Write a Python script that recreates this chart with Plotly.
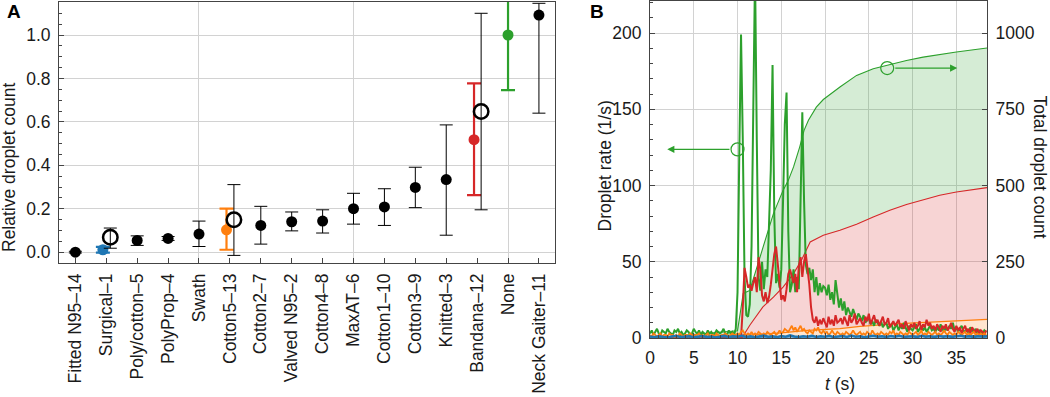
import numpy as np
import plotly.graph_objects as go

# ---------------- Panel A data ----------------
categories = ["Fitted N95–14", "Surgical–1", "Poly/cotton–5", "PolyProp–4", "Swath",
              "Cotton5–13", "Cotton2–7", "Valved N95–2", "Cotton4–8", "MaxAT–6",
              "Cotton1–10", "Cotton3–9", "Knitted–3", "Bandana–12", "None", "Neck Gaiter–11"]
rel_count = [0.0, 0.011, 0.054, 0.063, 0.083, 0.103, 0.123, 0.140, 0.143, 0.200,
             0.208, 0.298, 0.334, 0.518, 1.000, 1.092]
rel_upper = [0.004, 0.024, 0.075, 0.072, 0.143, 0.200, 0.211, 0.185, 0.195, 0.271,
             0.292, 0.391, 0.586, 0.777, 1.260, 1.146]
rel_lower = [-0.004, -0.002, 0.031, 0.054, 0.026, 0.011, 0.037, 0.098, 0.088, 0.129,
             0.123, 0.205, 0.078, 0.263, 0.746, 0.640]
repeat_categories = ["Surgical–1", "Cotton5–13", "Bandana–12"]
repeat_count = [0.069, 0.149, 0.648]
repeat_upper = [0.111, 0.311, 1.100]
repeat_lower = [0.018, -0.015, 0.195]

# ---------------- Panel B data ----------------
rate_t = np.round(np.arange(193) * 0.2, 1)          # 0 .. 38.4 s
green_rate = [
    3, 5, 2, 4, 6, 3, 2, 5, 4, 3,
    6, 4, 3, 2, 5, 4, 6, 3, 4, 2,
    3, 5, 4, 2, 3, 6, 4, 3, 5, 2,
    4, 3, 2, 5, 3, 4, 2, 3, 5, 4,
    3, 4, 6, 3, 2, 5, 3, 4, 2, 6,
    30, 120, 199, 130, 40, 15, 14, 22, 60, 150,
    240, 130, 40, 31, 50, 32, 45, 40, 70, 110,
    179, 80, 36, 42, 33, 45, 90, 140, 161, 70,
    30, 35, 45, 30, 40, 32, 90, 148, 90, 48,
    42, 46, 38, 45, 30, 40, 28, 36, 30, 34,
    33, 28, 35, 25, 30, 22, 38, 30, 20, 26,
    18, 24, 15, 20, 17, 14, 19, 15, 12, 16,
    14, 11, 15, 10, 12, 13, 9, 11, 8, 12,
    10, 8, 11, 7, 9, 10, 6, 8, 9, 5,
    7, 9, 5, 8, 6, 10, 7, 4, 8, 6,
    5, 7, 9, 4, 6, 8, 5, 7, 4, 6,
    8, 5, 6, 4, 7, 5, 9, 6, 4, 7,
    5, 8, 6, 10, 5, 7, 4, 6, 8, 5,
    4, 6, 3, 7, 5, 4, 6, 3, 5, 4,
    3, 5, 4]
red_rate = [   # from t = 10.0 s
    0, 0, 0, 20, 46, 40, 33, 35, 31, 36,
    40, 30, 53, 45, 28, 24, 30, 23, 27, 35,
    45, 55, 60, 49, 40, 25, 28, 24, 32, 42,
    45, 40, 36, 42, 30, 47, 53, 40, 50, 55,
    46, 35, 20, 12, 10, 14, 8, 12, 9, 13,
    10, 7, 14, 9, 12, 8, 15, 10, 11, 13,
    9, 14, 11, 8, 15, 10, 12, 16, 9, 11,
    13, 10, 8, 14, 11, 16, 9, 12, 15, 10,
    12, 8, 11, 14, 9, 10, 13, 7, 9, 11,
    8, 10, 12, 7, 9, 6, 11, 8, 5, 9,
    7, 10, 6, 8, 11, 5, 9, 7, 12, 8,
    10, 6, 8, 5, 9, 7, 4, 8, 6, 9,
    5, 7, 10, 6, 4, 8, 5, 7, 3, 6,
    8, 4, 6, 3, 7, 5, 4, 6, 3, 5,
    4, 2, 5]
orange_rate = [
    2, 1, 3, 2, 1, 2, 3, 1, 2, 2,
    1, 3, 2, 2, 1, 2, 1, 3, 2, 1,
    2, 2, 1, 3, 2, 1, 2, 2, 3, 1,
    2, 1, 2, 3, 1, 2, 2, 1, 3, 2,
    1, 2, 2, 3, 2, 1, 2, 3, 2, 2,
    3, 2, 4, 5, 3, 2, 3, 2, 4, 2,
    3, 2, 4, 3, 2, 3, 2, 4, 3, 2,
    3, 4, 2, 3, 5, 3, 4, 6, 5, 4,
    6, 8, 5, 7, 4, 6, 8, 5, 6, 4,
    3, 5, 4, 3, 6, 5, 7, 4, 3, 5,
    3, 4, 2, 3, 5, 3, 2, 4, 3, 2,
    3, 2, 4, 3, 2, 3, 5, 3, 2, 3,
    4, 2, 3, 2, 4, 3, 2, 5, 3, 2,
    3, 2, 4, 3, 2, 3, 2, 4, 3, 5,
    2, 3, 2, 4, 3, 2, 3, 2, 4, 3,
    2, 3, 4, 2, 3, 5, 2, 3, 2, 4,
    3, 2, 3, 4, 2, 3, 2, 3, 5, 3,
    2, 4, 3, 2, 3, 2, 4, 3, 2, 3,
    4, 2, 3, 2, 3, 4, 2, 3, 2, 3,
    2, 3, 2]
blue_t = np.arange(78) * 0.5
blue_rate = [
    1, 0.5, 1.2, 0.8, 0.4, 1, 1.5, 0.6, 0.9, 1.2,
    0.5, 0.8, 1.3, 0.7, 1, 0.4, 0.9, 1.4, 0.6, 1.1,
    0.8, 1.5, 0.7, 1.2, 0.5, 1, 1.6, 0.8, 1.1, 0.6,
    1.3, 0.9, 1.7, 1, 0.6, 1.2, 0.8, 1.5, 0.7, 1.1,
    0.9, 1.4, 0.6, 1, 1.3, 0.7, 1.6, 0.9, 1.2, 0.5,
    1, 1.4, 0.8, 1.1, 0.6, 1.3, 0.9, 1.5, 0.7, 1,
    1.2, 0.6, 1.4, 0.8, 1.1, 0.5, 1.3, 0.9, 1.2, 0.7,
    1, 1.4, 0.8, 1.1, 0.6, 1.2, 0.9, 1.0]

green_cum_t = [0, 2.5, 5, 7.5, 10, 10.3, 10.65, 11.4, 12.2, 12.9, 14.1, 15.2, 15.8, 16.4,
               17.1, 17.6, 18.1, 19.0, 19.8, 21.7, 23.6, 25.5, 27.4, 29.3, 31.2, 33.1, 35, 38.5]
green_cum = [0, 6, 12, 18, 24, 80, 146, 156, 233, 298, 408, 484, 517, 561,
             626, 681, 714, 757, 782, 823, 861, 883, 897, 910, 921, 930, 938, 951]
red_cum_t = [0, 10.5, 11.4, 12.2, 12.9, 14.1, 15.2, 16.4, 17.3, 18.3, 19.8, 21.7,
             23.6, 25.5, 27.4, 29.3, 31.2, 33.1, 35, 38.5]
red_cum = [0, 0, 42, 74, 102, 134, 167, 211, 255, 315, 337, 353,
           373, 397, 419, 438, 454, 468, 479, 493]
orange_cum_t = [0, 5, 10, 12, 15, 18, 21.7, 24, 28, 32, 35, 38.5]
orange_cum = [0, 4, 8, 11, 17, 25, 31, 38, 46, 52, 57, 61]
blue_cum_t = [0, 10, 20, 30, 38.5]
blue_cum = [0, 2, 4, 6, 8]

# ---------------- styling ----------------
FONT = "Liberation Sans, Arial, sans-serif"
FS = 17.5
TXT = "#1a1a1a"
GRID = "#d2d2d2"
FRAME = "#444444"
C_BLUE, C_ORANGE, C_GREEN, C_RED = "#1f77b4", "#ff7f0e", "#2ca02c", "#d62728"
highlight = {"Surgical–1": C_BLUE, "Cotton5–13": C_ORANGE, "Bandana–12": C_RED, "None": C_GREEN}
shift_filled = {"Surgical–1": -0.11, "Cotton5–13": -0.11, "Bandana–12": -0.10, "None": 0.0}
shift_open = 0.13

fig = go.Figure()

# Panel A: black filled points
idx = {c: i for i, c in enumerate(categories)}
plain = [c for c in categories if c not in highlight]
fig.add_trace(go.Scatter(
    x=[idx[c] for c in plain], y=[rel_count[idx[c]] for c in plain],
    mode="markers", marker=dict(color="black", size=11),
    error_y=dict(type="data", symmetric=False,
                 array=[rel_upper[idx[c]] - rel_count[idx[c]] for c in plain],
                 arrayminus=[rel_count[idx[c]] - rel_lower[idx[c]] for c in plain],
                 color="black", thickness=1, width=6.5),
    xaxis="x", yaxis="y", showlegend=False, hoverinfo="skip"))

for c, col in highlight.items():
    i = idx[c]
    fig.add_trace(go.Scatter(
        x=[i + shift_filled[c]], y=[rel_count[i]], mode="markers",
        marker=dict(color=col, size=11),
        error_y=dict(type="data", symmetric=False,
                     array=[rel_upper[i] - rel_count[i]],
                     arrayminus=[rel_count[i] - rel_lower[i]],
                     color=col, thickness=2.2, width=7),
        xaxis="x", yaxis="y", showlegend=False, hoverinfo="skip"))

# Panel A: open circles (on overlay axis carrying the category labels)
fig.add_trace(go.Scatter(
    x=[idx[c] + shift_open for c in repeat_categories], y=repeat_count, mode="markers",
    marker=dict(symbol="circle-open", color="black", size=14.5, line=dict(width=2.5, color="black")),
    error_y=dict(type="data", symmetric=False,
                 array=[u - v for u, v in zip(repeat_upper, repeat_count)],
                 arrayminus=[v - l for v, l in zip(repeat_count, repeat_lower)],
                 color="black", thickness=1, width=6.5),
    xaxis="x3", yaxis="y", showlegend=False, hoverinfo="skip"))

# Panel B: cumulative (main axis y2, right side)
fig.add_trace(go.Scatter(x=blue_cum_t, y=blue_cum, mode="lines", line=dict(color=C_BLUE, width=1),
                         fill="tozeroy", fillcolor="rgba(31,119,180,0.2)",
                         xaxis="x2", yaxis="y2", showlegend=False, hoverinfo="skip"))
fig.add_trace(go.Scatter(x=orange_cum_t, y=orange_cum, mode="lines", line=dict(color=C_ORANGE, width=1.2),
                         fill="tonexty", fillcolor="rgba(255,127,14,0.2)",
                         xaxis="x2", yaxis="y2", showlegend=False, hoverinfo="skip"))
fig.add_trace(go.Scatter(x=red_cum_t, y=red_cum, mode="lines", line=dict(color=C_RED, width=1.1),
                         fill="tonexty", fillcolor="rgba(214,39,40,0.2)",
                         xaxis="x2", yaxis="y2", showlegend=False, hoverinfo="skip"))
fig.add_trace(go.Scatter(x=green_cum_t, y=green_cum, mode="lines", line=dict(color=C_GREEN, width=1.1),
                         fill="tonexty", fillcolor="rgba(44,160,44,0.2)",
                         xaxis="x2", yaxis="y2", showlegend=False, hoverinfo="skip"))

# Panel B: rates (overlay axis y3, left side)
fig.add_trace(go.Scatter(x=rate_t, y=green_rate, mode="lines", line=dict(color=C_GREEN, width=2),
                         xaxis="x2", yaxis="y3", showlegend=False, hoverinfo="skip"))
fig.add_trace(go.Scatter(x=rate_t[50:], y=red_rate, mode="lines", line=dict(color=C_RED, width=2),
                         xaxis="x2", yaxis="y3", showlegend=False, hoverinfo="skip"))
fig.add_trace(go.Scatter(x=rate_t, y=orange_rate, mode="lines", line=dict(color=C_ORANGE, width=1.8),
                         xaxis="x2", yaxis="y3", showlegend=False, hoverinfo="skip"))
fig.add_trace(go.Scatter(x=blue_t, y=blue_rate, mode="lines", line=dict(color=C_BLUE, width=2.5),
                         xaxis="x2", yaxis="y3", showlegend=False, hoverinfo="skip"))

# axis-pointer circles + arrows
mark_rate = (10.0, 123.7)
mark_count = (27.1, 885)
fig.add_trace(go.Scatter(x=[mark_rate[0]], y=[mark_rate[1]], mode="markers",
                         marker=dict(symbol="circle-open", size=13, color=C_GREEN, line=dict(width=1.2)),
                         xaxis="x2", yaxis="y3", showlegend=False, hoverinfo="skip"))
fig.add_trace(go.Scatter(x=[mark_count[0]], y=[mark_count[1]], mode="markers",
                         marker=dict(symbol="circle-open", size=13, color=C_GREEN, line=dict(width=1.2)),
                         xaxis="x2", yaxis="y2", showlegend=False, hoverinfo="skip"))

annotations = [
    dict(x=1.97, y=mark_rate[1], ax=mark_rate[0] - 0.75, ay=mark_rate[1], xref="x2", yref="y3",
         axref="x2", ayref="y3", text="", showarrow=True, arrowhead=2, arrowsize=1.3,
         arrowwidth=1.1, arrowcolor=C_GREEN),
    dict(x=35.1, y=mark_count[1], ax=mark_count[0] + 0.75, ay=mark_count[1], xref="x2", yref="y2",
         axref="x2", ayref="y2", text="", showarrow=True, arrowhead=2, arrowsize=1.3,
         arrowwidth=1.1, arrowcolor=C_GREEN),
]

# titles / panel letters
W, L, R, T, B = 1050, 59, 63, 1, 59
PW, PH = W - L - R, 397 - T - B
def px(x):
    return (x - L) / PW
def py(y):
    return (397 - B - y) / PH

annotations += [
    dict(text="Relative droplet count", x=px(9), y=py(168), textangle=-90),
    dict(text="Droplet rate (1/s)", x=px(604.5), y=py(166), textangle=-90),
    dict(text="Total droplet count", x=px(1039.5), y=py(167), textangle=90),
    dict(text="<i>t</i> (s)", x=px(840), y=py(384), textangle=0),
    dict(text="<b>A</b>", x=px(14), y=py(11), textangle=0, font=dict(size=19, family=FONT, color="black")),
    dict(text="<b>B</b>", x=px(597), y=py(11), textangle=0, font=dict(size=19, family=FONT, color="black")),
]
for a in annotations[2:]:
    a.update(xref="paper", yref="paper", showarrow=False, xanchor="center", yanchor="middle")
    a.setdefault("font", dict(size=FS, family=FONT, color=TXT))

axis_common = dict(showline=True, linecolor=FRAME, linewidth=1, zeroline=False,
                   automargin=False, tickcolor=FRAME, ticks="inside",
                   tickfont=dict(size=FS, family=FONT, color=TXT))

a_dom_x = [0, px(555)]
a_dom_y = [py(263), py(2)]
b_dom_x = [px(650), 1]
x_range_a = [-0.53, 15.52]

fig.update_layout(
    width=W, height=397, margin=dict(l=L, r=R, t=T, b=B),
    paper_bgcolor="white", plot_bgcolor="white",
    font=dict(family=FONT, size=FS, color=TXT),
    annotations=annotations,
    xaxis=dict(domain=a_dom_x, range=x_range_a, anchor="y", tickmode="array", tickvals=[4, 9, 14],
               showticklabels=False, ticks="", showgrid=True, gridcolor=GRID, gridwidth=1,
               showline=True, mirror=True, linecolor=FRAME, zeroline=False, automargin=False),
    xaxis3=dict(domain=a_dom_x, range=x_range_a, anchor="y", overlaying="x", tickmode="array",
                tickvals=list(range(len(categories))), ticktext=categories, tickangle=-90,
                ticks="inside", ticklen=5, tickcolor=FRAME, showgrid=False, showline=False,
                zeroline=False, automargin=False, ticklabelstandoff=6,
                tickfont=dict(size=FS, family=FONT, color=TXT)),
    yaxis=dict(domain=a_dom_y, range=[-0.05, 1.152], anchor="x", tickmode="array",
               tickvals=[0, 0.2, 0.4, 0.6, 0.8, 1.0], ticktext=["0.0", "0.2", "0.4", "0.6", "0.8", "1.0"],
               ticklen=5, showgrid=True, gridcolor=GRID, gridwidth=1, mirror=True,
               minor=dict(dtick=0.05, ticks="inside", ticklen=3, tickcolor=FRAME, showgrid=False),
               ticklabelstandoff=4, **axis_common),
    xaxis2=dict(domain=b_dom_x, range=[0, 38.5], anchor="y2", tickmode="array",
                tickvals=[0, 5, 10, 15, 20, 25, 30, 35], ticklen=5, showgrid=True, gridcolor=GRID,
                gridwidth=1, mirror=True,
                minor=dict(dtick=1, ticks="inside", ticklen=3, tickcolor=FRAME, showgrid=False),
                ticklabelstandoff=4, **axis_common),
    yaxis2=dict(domain=[0, 1], range=[0, 1105], anchor="x2", side="right", tickmode="array",
                tickvals=[0, 250, 500, 750, 1000], ticklen=5, showgrid=True, gridcolor=GRID,
                gridwidth=1, ticklabelstandoff=4, **axis_common),
    yaxis3=dict(domain=[0, 1], range=[0, 221], anchor="x2", side="left", overlaying="y2",
                tickmode="array", tickvals=[0, 50, 100, 150, 200], ticklen=5, showgrid=False,
                minor=dict(dtick=10, ticks="inside", ticklen=3, tickcolor=FRAME, showgrid=False),
                ticklabelstandoff=4, **axis_common),
)

fig.write_html("out.html", config={"displayModeBar": False},
               post_script="document.body.style.margin='0';document.body.style.overflow='hidden';")
